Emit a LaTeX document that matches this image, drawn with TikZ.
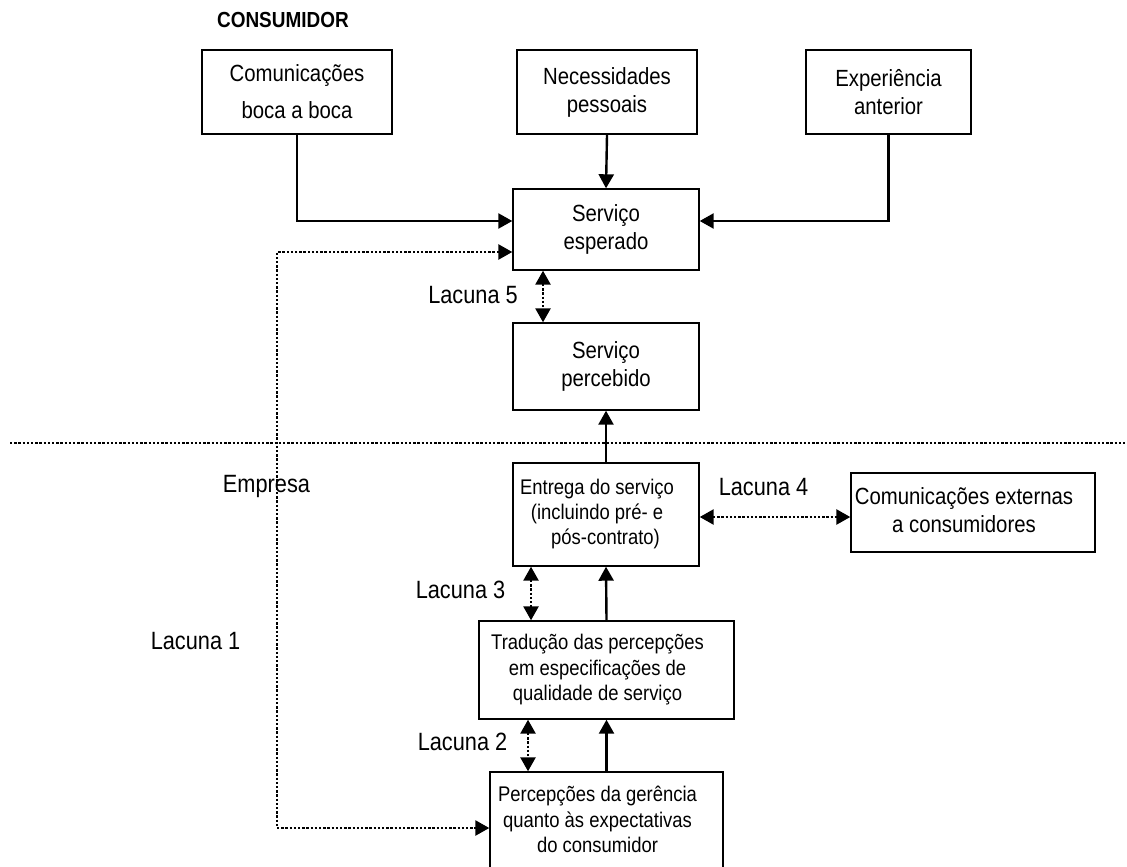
\documentclass[tikz,border=0pt]{standalone}
\usepackage{fontspec}
\setmainfont{Liberation Sans}[FakeStretch=0.87]
\usetikzlibrary{arrows.meta}

\newcommand{\topfont}{\fontsize{11.7pt}{14pt}\selectfont}
\newcommand{\lowfont}{\fontsize{10.6pt}{12.7pt}\selectfont}
% text a little left of the box centre
\newcommand{\lefttext}[1]{\hspace*{-9pt}\begin{tabular}{@{}c@{}}#1\end{tabular}}
\tikzset{
  box/.style={draw, line width=0.7pt, align=center, inner sep=0pt},
  arr/.style={line width=1.2pt, -{Triangle[length=7pt,width=7.5pt]}},
  gap/.style={line width=1.3pt, dash pattern=on 1.2pt off 0.9pt,
    {Triangle[length=7pt,width=7.5pt]}-{Triangle[length=7pt,width=7.5pt]}},
  sep/.style={line width=1.3pt, dash pattern=on 1.2pt off 0.9pt},
  lbl/.style={anchor=base, font=\fontsize{12.5pt}{15pt}\selectfont}
}

\begin{document}
\begin{tikzpicture}[x=0.5pt, y=-0.5pt]
    \useasboundingbox (0,0) rectangle (1127,866);
    \clip (0,0) rectangle (1127,866);
    % consumer side
    \node[anchor=base west, font=\fontsize{10.9pt}{13pt}\selectfont\bfseries] (consumidor) at (210,28) {CONSUMIDOR};
    \node[box, font=\fontsize{11.7pt}{18.5pt}\selectfont, minimum width=95pt, minimum height=42pt] (boca) at (297,92) {Comunicações\\boca a boca};
    \node[box, font=\topfont, minimum width=90pt, minimum height=42pt] (necess) at (607,92) {Necessidades\\pessoais};
    \node[box, font=\topfont, minimum width=82.5pt, minimum height=42pt] (exper) at (888.5,92) {Experiência\\anterior};
    \node[box, font=\topfont, minimum width=93pt, minimum height=40.5pt] (esper) at (606,229.5) {Serviço\\esperado};
    \node[box, font=\topfont, minimum width=93pt, minimum height=43.5pt] (perceb) at (606,366.5) {Serviço\\percebido};
    % company side
    \draw[sep] (10,443) -- (1127,443);
    \node[box, font=\lowfont, minimum width=93pt, minimum height=51.5pt] (entrega) at (606,514.5) {\lefttext{Entrega do serviço\\(incluindo pré- e\\\hspace*{8.5pt}pós-contrato)}};
    \node[box, font=\topfont, minimum width=122pt, minimum height=39.5pt] (extern) at (973,512.5) {\lefttext{Comunicações externas\\a consumidores}};
    \node[box, font=\lowfont, minimum width=127.5pt, minimum height=49pt] (traduc) at (606.5,670) {\lefttext{Tradução das percepções\\em especificações de\\qualidade de serviço}};
    \node[box, font=\lowfont, minimum width=116.5pt, minimum height=50pt] (percep) at (606.5,822) {\lefttext{Percepções da gerência\\quanto às expectativas\\do consumidor}};
    \coordinate (turn) at (277,540);

    \draw[arr] (boca.south) |- ([yshift=4.25pt]esper.west);
    \draw[arr] (necess.south) -- (esper.north);
    \draw[arr] (exper.south) |- ([yshift=4.25pt]esper.east);
    \draw[arr] (entrega.north) -- (perceb.south);
    \draw[arr] (traduc.north) -- (entrega.south);
    \draw[arr] (percep.north) -- (traduc.south);

    \draw[gap] ([yshift=-11.25pt]esper.west) -| (turn) |- ([yshift=-3pt]percep.west);
    \draw[gap] ([xshift=-31.5pt]esper.south) -- ([xshift=-31.5pt]perceb.north);
    \draw[gap] ([yshift=-1.25pt]entrega.east) -- ([yshift=-1.25pt]entrega.east -| extern.west);
    \draw[gap] ([xshift=-37.5pt]entrega.south) -- ([xshift=-37.5pt]entrega.south |- traduc.north);
    \draw[gap] ([xshift=-39.25pt]traduc.south) -- ([xshift=-39.25pt]traduc.south |- percep.north);

    \node[lbl] (lac5) at (473,303) {Lacuna 5};
    \node[lbl] (lac4) at (763.5,495) {Lacuna 4};
    \node[lbl] (lac3) at (460.5,598) {Lacuna 3};
    \node[lbl] (lac2) at (462.5,750) {Lacuna 2};
    \node[lbl] (lac1) at (195.5,649) {Lacuna 1};
    \node[lbl] (empresa) at (266.5,492) {Empresa};
\end{tikzpicture}
\end{document}
